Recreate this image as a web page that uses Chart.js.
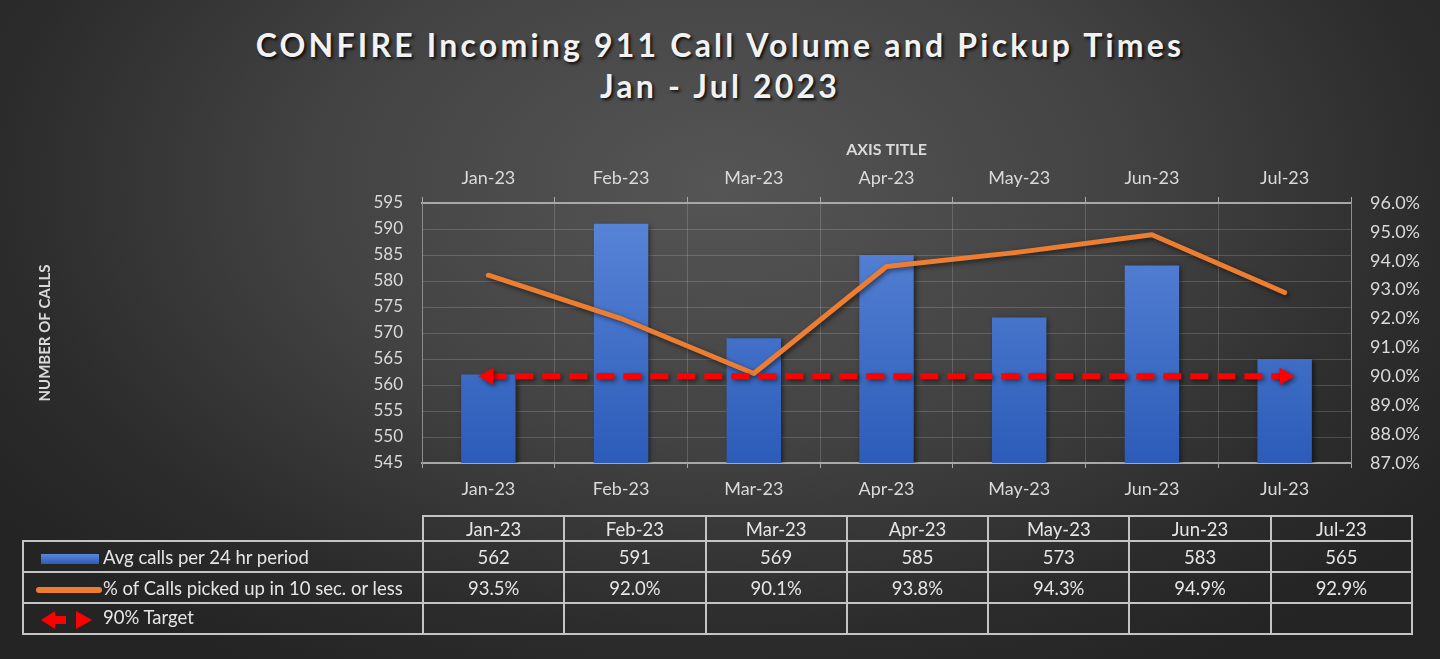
<!DOCTYPE html>
<html>
<head>
<meta charset="utf-8">
<title>CONFIRE Incoming 911 Call Volume</title>
<script src="https://cdn.jsdelivr.net/npm/chart.js@4.4.0/dist/chart.umd.min.js"></script>
<style>
html, body { margin: 0; padding: 0; }
body { width: 1440px; height: 659px; overflow: hidden; font-family: Lato, "Open Sans", sans-serif; }
#wrap {
    position: relative; width: 1440px; height: 659px;
    background: radial-gradient(ellipse 62% 85% at 50% 28%, #555555 0%, #434343 45%, #2c2c2c 80%, #242424 100%);
}
#chartTitle {
    position: absolute; left: 0; top: 24px; width: 1440px; text-align: center;
    color: #f2f2f2; font-weight: bold; font-size: 32px; line-height: 41px; letter-spacing: 3.2px;
    text-shadow: 2px 2px 3px rgba(0,0,0,0.8);
}
#callChart { position: absolute; left: 0; top: 0; }
#dataTable {
    position: absolute; left: 22px; top: 515px; width: 1391px;
    border-collapse: collapse; table-layout: fixed;
    color: #e6e6e6; font-size: 18.5px;
}
#dataTable td { border: 2px solid #c4c4c4; text-align: center; padding: 0; line-height: 20px; }
#dataTable tr.head td { height: 23px; }
#dataTable tr.row td { height: 29px; }
#dataTable td.blank { border-top: none; border-left: none; }
#dataTable td.key { text-align: left; padding-left: 12px; white-space: nowrap; }
.icon { display: inline-block; width: 66px; height: 12px; vertical-align: middle; position: relative; margin-right: 1px; }
.icon.bar span { position: absolute; left: 5px; top: 1px; width: 58px; height: 10px; background: linear-gradient(#5b87d9, #2c5cb9); }
.icon.line span { position: absolute; left: 0; top: 3px; width: 66px; height: 6px; border-radius: 3px; background: #ed7d31; }
</style>
</head>
<body>
<div id="wrap">
    <div id="chartTitle">CONFIRE Incoming 911 Call Volume and Pickup Times<br>Jan - Jul 2023</div>
    <canvas id="callChart" width="1440" height="659"></canvas>
    <table id="dataTable"></table>
</div>
<script>
// chart values
var months = ['Jan-23', 'Feb-23', 'Mar-23', 'Apr-23', 'May-23', 'Jun-23', 'Jul-23'];
var avgCalls = [562, 591, 569, 585, 573, 583, 565];
var pickupPct = [93.5, 92.0, 90.1, 93.8, 94.3, 94.9, 92.9];
var targetPct = [90, 90, 90, 90, 90, 90, 90];

var callsMin = 545, callsMax = 595, callsStep = 5;
var pctMin = 87, pctMax = 96, pctStep = 1;

var seriesNames = ['Avg calls per 24 hr period', '% of Calls picked up in 10 sec. or less', '90% Target'];

var tickColor = '#dadada';
var gridColor = 'rgba(255,255,255,0.16)';
var axisColor = '#a8a8a8';
var yTickFont = { family: 'Lato', size: 17 };
var xTickFont = { family: 'Lato', size: 18 };

// arrow heads only at the two ends of the target line
var arrowRadius = targetPct.map(function (v, i) { return (i === 0 || i === targetPct.length - 1) ? 10 : 0; });
var arrowRotation = targetPct.map(function (v, i) { return i === 0 ? -90 : (i === targetPct.length - 1 ? 90 : 0); });

var shadowPlugin = {
    id: 'shadow',
    beforeDatasetDraw: function (chart) {
        var ctx = chart.ctx;
        ctx.save();
        ctx.shadowColor = 'rgba(0,0,0,0.55)';
        ctx.shadowBlur = 5;
        ctx.shadowOffsetX = 2;
        ctx.shadowOffsetY = 2;
    },
    afterDatasetDraw: function (chart) {
        chart.ctx.restore();
    }
};

var barGradient = function (context) {
    var chart = context.chart;
    var area = chart.chartArea;
    if (!area) return '#4472c4';
    var g = chart.ctx.createLinearGradient(0, area.top, 0, area.bottom);
    g.addColorStop(0, '#5b87d9');
    g.addColorStop(1, '#2c5cb9');
    return g;
};

var callChart = new Chart(document.getElementById('callChart'), {
    type: 'bar',
    data: {
        labels: months,
        datasets: [
            {
                type: 'line',
                label: seriesNames[2],
                data: targetPct,
                yAxisID: 'y1',
                borderColor: '#ff0000',
                backgroundColor: '#ff0000',
                borderWidth: 6,
                borderDash: [18, 9],
                borderCapStyle: 'butt',
                pointStyle: 'triangle',
                pointRadius: arrowRadius,
                pointRotation: arrowRotation,
                pointBorderWidth: 0,
                pointBackgroundColor: '#ff0000',
                fill: false,
                order: 1
            },
            {
                type: 'line',
                label: seriesNames[1],
                data: pickupPct,
                yAxisID: 'y1',
                borderColor: '#ed7d31',
                backgroundColor: '#ed7d31',
                borderWidth: 5,
                borderCapStyle: 'round',
                borderJoinStyle: 'round',
                pointRadius: 0,
                tension: 0,
                fill: false,
                order: 2
            },
            {
                label: seriesNames[0],
                data: avgCalls,
                yAxisID: 'y',
                backgroundColor: barGradient,
                categoryPercentage: 1,
                barPercentage: 0.41,
                order: 3
            }
        ]
    },
    options: {
        responsive: false,
        animation: false,
        devicePixelRatio: 1,
        layout: { padding: { left: 33, right: 10, top: 138, bottom: 156 } },
        plugins: {
            legend: { display: false },
            tooltip: { enabled: false }
        },
        scales: {
            x: {
                position: 'bottom',
                offset: true,
                grid: { offset: true, color: gridColor, tickColor: axisColor, tickLength: 5 },
                border: { color: axisColor, width: 2 },
                ticks: { color: tickColor, font: xTickFont, padding: 10, maxRotation: 0 },
                afterFit: function (scale) { scale.height = 40; }
            },
            x2: {
                type: 'category',
                labels: months,
                position: 'top',
                offset: true,
                grid: { offset: true, drawOnChartArea: false, tickColor: axisColor, tickLength: 6 },
                border: { color: axisColor, width: 2 },
                ticks: { color: tickColor, font: xTickFont, padding: 8, maxRotation: 0 },
                title: {
                    display: true, text: 'AXIS TITLE', color: tickColor,
                    font: { family: 'Lato', size: 16, weight: 'bold' },
                    padding: { top: 2, bottom: 0 }
                },
                afterFit: function (scale) { scale.height = 65; }
            },
            y: {
                position: 'left',
                min: callsMin, max: callsMax,
                grid: { color: gridColor, drawTicks: false },
                border: { color: '#8c8c8c', width: 1 },
                ticks: { stepSize: callsStep, color: tickColor, font: yTickFont, padding: 19 },
                title: {
                    display: true, text: 'NUMBER OF CALLS', color: tickColor,
                    font: { family: 'Lato', size: 15, weight: 'bold' },
                    padding: { top: 3, bottom: 0 }
                },
                afterFit: function (scale) { scale.width = 389; }
            },
            y1: {
                position: 'right',
                min: pctMin, max: pctMax,
                grid: { drawOnChartArea: false, drawTicks: false },
                border: { color: '#8c8c8c', width: 1 },
                ticks: {
                    stepSize: pctStep, color: tickColor, font: xTickFont, padding: 19,
                    callback: function (value) { return value.toFixed(1) + '%'; }
                },
                afterFit: function (scale) { scale.width = 79; }
            }
        }
    },
    plugins: [shadowPlugin]
});

// data table under the chart
var buildTable = function () {
    var arrowIcon = '<svg class="icon" width="66" height="20" viewBox="0 0 66 20" style="height:20px">' +
        '<polygon points="5,10 19,1 19,6 30,6 30,14 19,14 19,19" fill="#ff0000"/>' +
        '<polygon points="40,1 56,10 40,19" fill="#ff0000"/></svg>';
    var html = '<colgroup><col style="width:400px">';
    for (var c in months) html += '<col>';
    html += '</colgroup><tr class="head"><td class="blank"></td>';
    for (var i in months) html += '<td>' + months[i] + '</td>';
    html += '</tr><tr class="row"><td class="key"><span class="icon bar"><span></span></span>' + seriesNames[0] + '</td>';
    for (var i in avgCalls) html += '<td>' + avgCalls[i] + '</td>';
    html += '</tr><tr class="row"><td class="key"><span class="icon line"><span></span></span>' + seriesNames[1] + '</td>';
    for (var i in pickupPct) html += '<td>' + pickupPct[i].toFixed(1) + '%</td>';
    html += '</tr><tr class="row"><td class="key">' + arrowIcon + seriesNames[2] + '</td>';
    for (var i in targetPct) html += '<td></td>';
    html += '</tr>';
    document.getElementById('dataTable').innerHTML = html;
};
buildTable();
</script>
</body>
</html>
